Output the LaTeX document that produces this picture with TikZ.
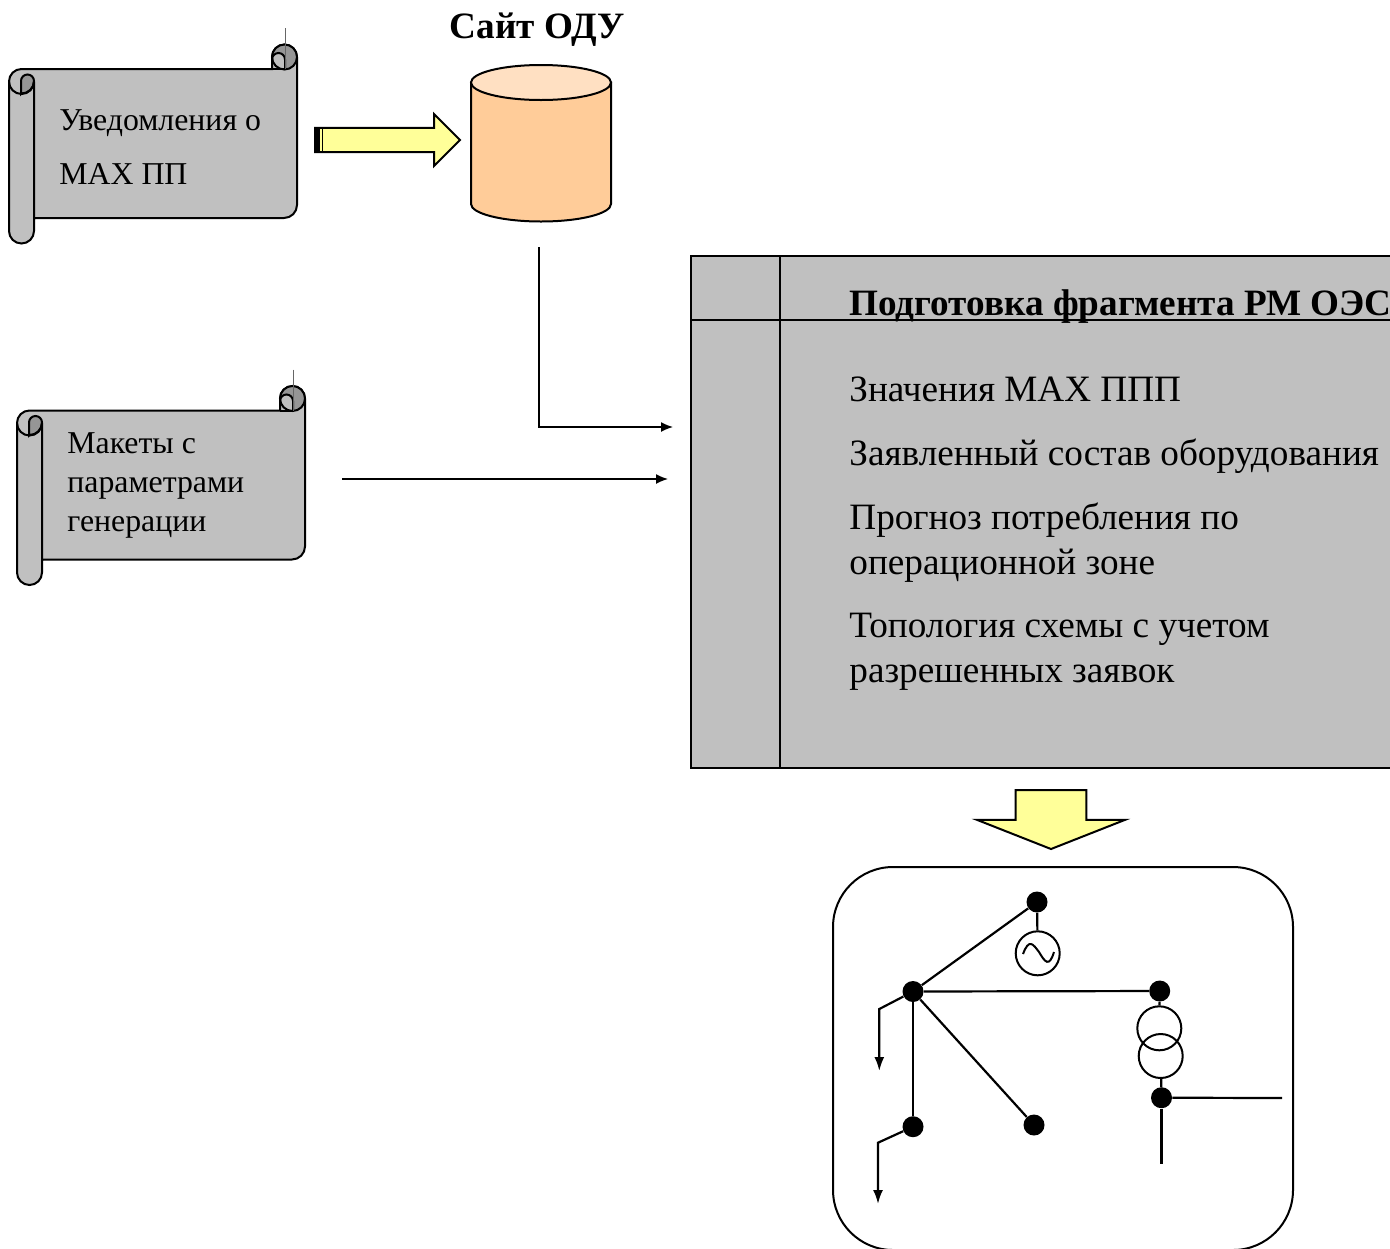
\documentclass[tikz,border=0pt]{standalone}
\usepackage{fontspec}
\setmainfont{Liberation Serif}
\usepackage{tikz}
\usetikzlibrary{shapes.arrows, arrows.meta}
\definecolor{scrollgray}{HTML}{C0C0C0}
\definecolor{scrolldark}{HTML}{969696}
\definecolor{cylbody}{HTML}{FFCC99}
\definecolor{cyltop}{HTML}{FFE0C2}
\definecolor{blockyellow}{HTML}{FFFF99}
\tikzstyle{arrow} = [line width=0.75pt,-{Latex[length=6pt,width=5pt]}]
\tikzstyle{wire} = [line width=1.1pt]
\tikzstyle{loadwire} = [line width=1.1pt,-{Latex[length=7pt,width=5pt]}]
\tikzstyle{bus} = [circle, fill=black, inner sep=0pt, minimum size=10.5pt]
\tikzstyle{ring} = [circle, draw, line width=1pt, inner sep=0pt, minimum size=22pt]
\tikzstyle{scrolltext} = [inner sep=0pt, anchor=base west, font=\fontsize{15.9}{15.9}\selectfont]
\tikzstyle{paneltext} = [inner sep=0pt, anchor=base west, font=\fontsize{18.6}{18.6}\selectfont]
\tikzstyle{boldtext} = [inner sep=0pt, font=\bfseries\fontsize{18.6}{18.6}\selectfont]
\tikzstyle{blockarrow} = [single arrow, draw, line width=1pt, fill=blockyellow, inner sep=0pt, anchor=tail]
\tikzset{
  scrollpic/.pic={
    \draw[line width=1pt, fill=scrollgray] (25,-149) -- (275,-149) arc (-90:0:13) -- (288,12) arc (0:180:12.5) -- (263,0) -- (12.5,0) arc (90:180:12.5) -- (0,-162) arc (180:360:12.5) -- (25,-149);
    \fill[scrolldark] (275.5,12) circle (12.5);
    \draw[line width=1pt, fill=scrollgray] (263,0) -- (263,9.5) arc (180:0:6.5) -- (276,0);
    \draw[line width=1pt] (288,12) arc (0:360:12.5);
    \draw[line width=1pt, fill=scrollgray] (275.5,0) -- (263,0);
    \draw[line width=0.4pt, black!60] (276,41) -- (276,0);
    \draw[line width=1pt, fill=scrolldark] (12,-25) -- (12,-12) arc (180:0:6.5) -- (25,-12) arc (0:-90:12.5) -- cycle;
    \draw[line width=1pt] (0,-12.5) arc (180:360:12.5) -- (25,-150);
  }
}
\begin{document}
\begin{tikzpicture}[x=0.5pt,y=0.5pt]
  \useasboundingbox (0,0) rectangle (1390,-1248);
  \clip (0,0) rectangle (1390,-1248);
  % scrolls
  \pic at (9,-69) {scrollpic};
  \pic at (17,-410.5) {scrollpic};
  \node[scrolltext] (notice1) at (59,-130.5) {Уведомления о};
  \node[scrolltext] (notice2) at (59,-184.5) {МАХ ПП};
  \node[scrolltext] (maket1) at (67,-453) {Макеты с};
  \node[scrolltext] (maket2) at (67,-492) {параметрами};
  \node[scrolltext] (maket3) at (67,-531) {генерации};
  % site
  \node[boldtext, anchor=base] (site) at (537,-38) {Сайт ОДУ};
  \draw[line width=1pt, fill=cylbody] (471,-82.5) -- (471,-204) arc (180:360:70 and 17.5) -- (611,-82.5) -- cycle;
  \draw[line width=1pt, fill=cyltop] (541,-82.5) ellipse (70 and 17.5);
  \node[blockarrow, minimum width=26pt, minimum height=72.5pt, single arrow head extend=6.75pt, text height=11pt] (push) at (314,-140) {};
  \fill[black] (314,-127) rectangle (320,-153);
  \fill[black] (322,-127) rectangle (323,-153);
  % panel
  \node[draw, line width=1pt, fill=scrollgray, minimum width=360pt, minimum height=256pt, inner sep=0pt, outer sep=0pt, anchor=north west] (panel) at (691,-256) {};
  \draw[line width=1pt] (780,-256) -- (780,-768);
  \draw[line width=1pt] (691,-320) -- (1400,-320);
  \node[boldtext, anchor=base west] (head) at (849,-315.5) {Подготовка фрагмента РМ ОЭС};
  \node[paneltext] (item1) at (849,-401.5) {Значения МАХ ППП};
  \node[paneltext] (item2) at (849,-465.5) {Заявленный состав оборудования};
  \node[paneltext] (item3) at (849,-529.5) {Прогноз потребления по};
  \node[paneltext] (item3b) at (849,-574) {операционной зоне};
  \node[paneltext] (item4) at (849,-637.5) {Топология схемы с учетом};
  \node[paneltext] (item4b) at (849,-682) {разрешенных заявок};
  % connectors
  \coordinate (basedown) at (539,-247);
  \coordinate (panelin1) at (673,-427);
  \coordinate (maketout) at (342,-479);
  \coordinate (panelin2) at (668,-479);
  \draw[arrow] (basedown) |- (panelin1);
  \draw[arrow] (maketout) -- (panelin2);
  \node[blockarrow, rotate=-90, minimum width=74pt, minimum height=29.5pt, single arrow head extend=19pt, single arrow tip angle=137, text height=34pt] (result) at (1051,-789) {};
  % scheme
  \draw[line width=1pt, rounded corners=30pt] (833,-867) rectangle (1293,-1250);
  \node[bus] (genbus) at (1037,-902) {};
  \node[bus] (hub) at (913,-991.5) {};
  \node[bus] (trbus) at (1159.7,-991) {};
  \node[bus] (lowbus) at (1161.5,-1097.7) {};
  \node[bus] (leftbus) at (913,-1126.7) {};
  \node[bus] (midbus) at (1034,-1125) {};
  \node[ring] (gen) at (1037.7,-953.3) {};
  \node[ring] (trup) at (1159.3,-1028.3) {};
  \node[ring] (trlow) at (1160.7,-1056) {};
  \draw[line width=1pt] (1023,-954) .. controls (1029,-938) and (1033,-944) .. (1039,-952) .. controls (1045,-962) and (1049,-968) .. (1054,-952);
  \coordinate (lowright) at (1282,-1098);
  \coordinate (lowdown) at (1161.5,-1164);
  \coordinate (load1a) at (879.3,-1009);
  \coordinate (load1b) at (879.3,-1071);
  \coordinate (load2a) at (878,-1142.7);
  \coordinate (load2b) at (878,-1204);
  \draw[wire] (hub) -- (genbus);
  \draw[wire] (genbus) -- (gen);
  \draw[wire] (hub) -- (trbus);
  \draw[wire] (hub) -- (midbus);
  \draw[wire] (hub) -- (leftbus);
  \draw[wire] (trbus) -- (trup);
  \draw[wire] (trlow) -- (lowbus);
  \draw[wire] (lowbus) -- (lowright);
  \draw[wire] (lowbus) -- (lowdown);
  \draw[loadwire] (hub) -- (load1a) -- (load1b);
  \draw[loadwire] (leftbus) -- (load2a) -- (load2b);
\end{tikzpicture}
\end{document}
